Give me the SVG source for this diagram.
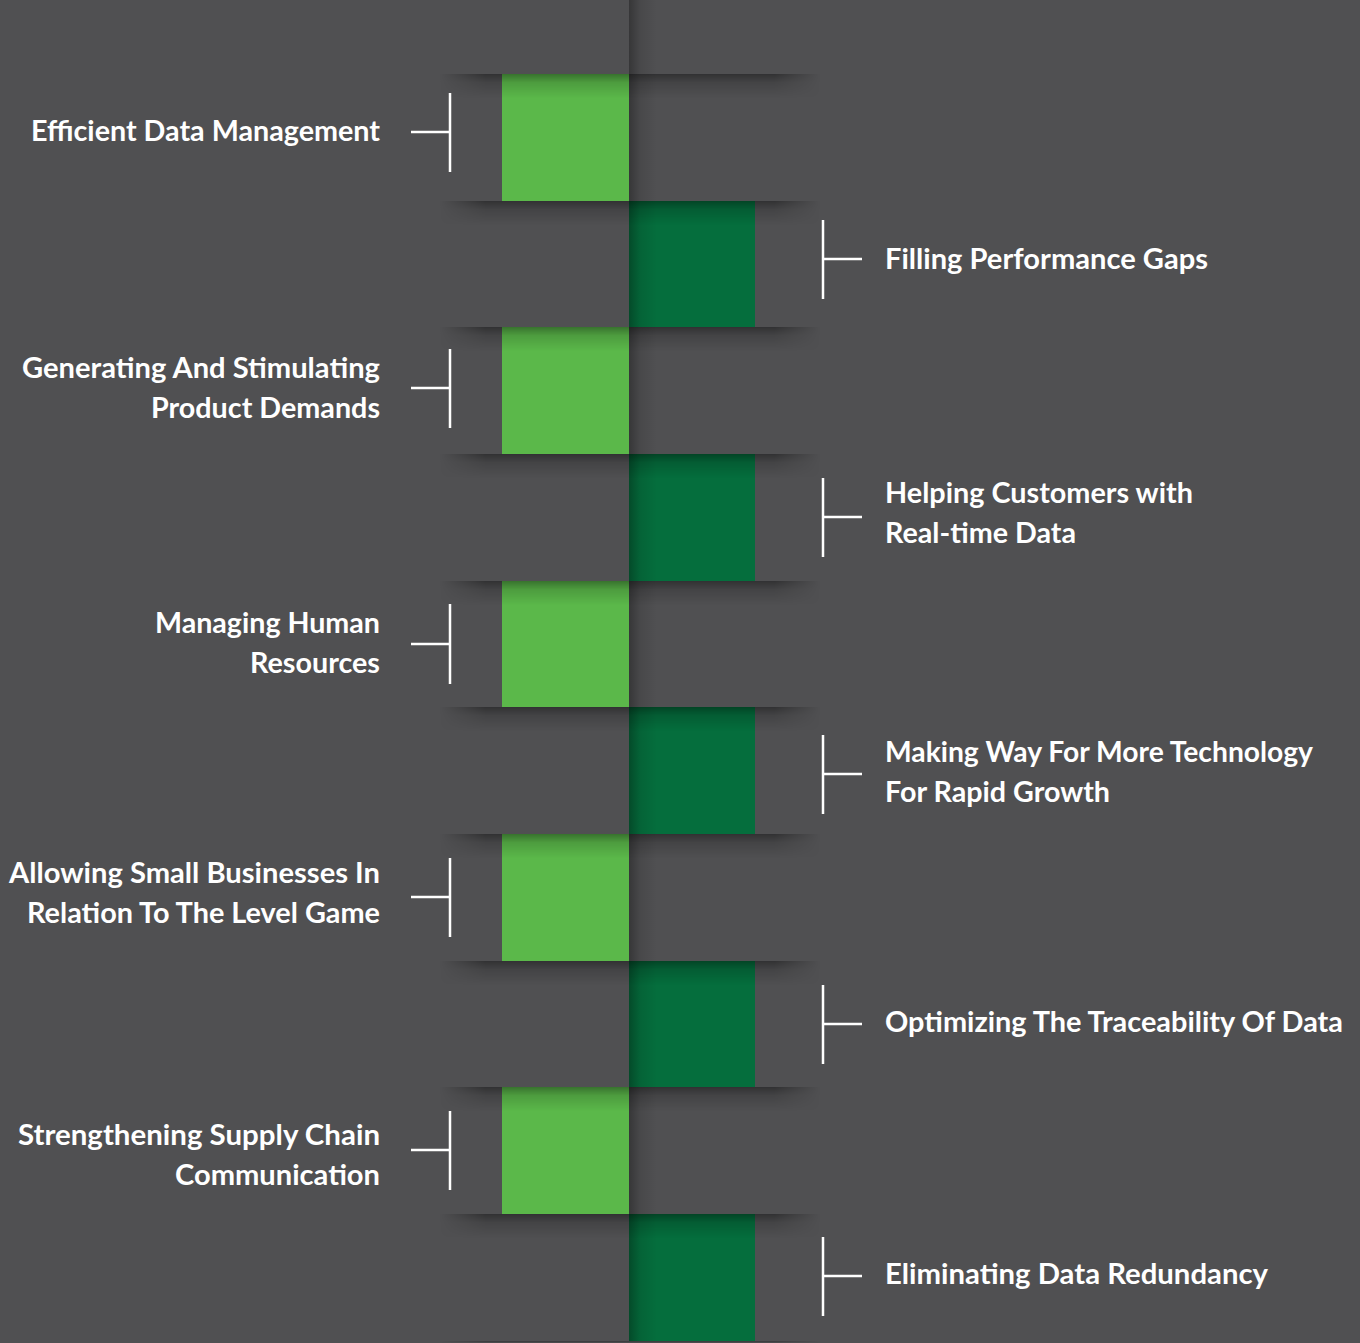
<svg xmlns="http://www.w3.org/2000/svg" width="1360" height="1343" viewBox="0 0 1360 1343">
  <style>
    .lt { fill: #5bb84a; }
    .dk { fill: #056e3d; }
    .lbl { font-family: Lato, "Open Sans", "Liberation Sans", sans-serif; font-weight: 700; font-size: 28px; fill: #ffffff; }
    .l { text-anchor: end; }
    .br { stroke: #ffffff; stroke-width: 2.5; fill: none; }
    .sh { fill: url(#gv); }
  </style>
  <defs>
    <linearGradient id="gv" x1="0" y1="0" x2="0" y2="1">
      <stop offset="0" stop-color="#000" stop-opacity="0.38"/>
      <stop offset="0.35" stop-color="#000" stop-opacity="0.15"/>
      <stop offset="1" stop-color="#000" stop-opacity="0"/>
    </linearGradient>
    <linearGradient id="gh" x1="0" y1="0" x2="1" y2="0">
      <stop offset="0" stop-color="#000" stop-opacity="0.32"/>
      <stop offset="0.4" stop-color="#000" stop-opacity="0.1"/>
      <stop offset="1" stop-color="#000" stop-opacity="0"/>
    </linearGradient>
    <linearGradient id="gfade" x1="0" y1="0" x2="1" y2="0">
      <stop offset="0" stop-color="#fff" stop-opacity="0"/>
      <stop offset="0.12" stop-color="#fff" stop-opacity="1"/>
      <stop offset="0.88" stop-color="#fff" stop-opacity="1"/>
      <stop offset="1" stop-color="#fff" stop-opacity="0"/>
    </linearGradient>
    <mask id="fade" maskUnits="userSpaceOnUse" x="0" y="0" width="1360" height="1343">
      <rect x="440" y="0" width="380" height="1343" fill="url(#gfade)"/>
    </mask>
  </defs>
  <rect width="1360" height="1343" fill="#505052"/>

  <g id="blocks">
    <rect class="lt" x="502" y="74" width="127" height="127"/>
    <rect class="dk" x="629" y="201" width="126" height="126"/>
    <rect class="lt" x="502" y="327" width="127" height="127"/>
    <rect class="dk" x="629" y="454" width="126" height="127"/>
    <rect class="lt" x="502" y="581" width="127" height="126"/>
    <rect class="dk" x="629" y="707" width="126" height="127"/>
    <rect class="lt" x="502" y="834" width="127" height="127"/>
    <rect class="dk" x="629" y="961" width="126" height="126"/>
    <rect class="lt" x="502" y="1087" width="127" height="127"/>
    <rect class="dk" x="629" y="1214" width="126" height="127"/>
  </g>

  <g id="shadows">
    <g mask="url(#fade)">
      <rect class="sh" x="440" y="74" width="380" height="24"/>
      <rect class="sh" x="440" y="201" width="380" height="24"/>
      <rect class="sh" x="440" y="327" width="380" height="24"/>
      <rect class="sh" x="440" y="454" width="380" height="24"/>
      <rect class="sh" x="440" y="581" width="380" height="24"/>
      <rect class="sh" x="440" y="707" width="380" height="24"/>
      <rect class="sh" x="440" y="834" width="380" height="24"/>
      <rect class="sh" x="440" y="961" width="380" height="24"/>
      <rect class="sh" x="440" y="1087" width="380" height="24"/>
      <rect class="sh" x="440" y="1214" width="380" height="24"/>
      <rect class="sh" x="440" y="1341" width="380" height="2"/>
    </g>
    <rect x="629" y="0" width="28" height="1341" fill="url(#gh)"/>
  </g>

  <g id="connectors">
    <path class="br" d="M450 93V172M411 132H450"/>
    <path class="br" d="M823 220V299M823 259H862"/>
    <path class="br" d="M450 349V428M411 388H450"/>
    <path class="br" d="M823 478V557M823 517H862"/>
    <path class="br" d="M450 604V684M411 644H450"/>
    <path class="br" d="M823 735V814M823 774H862"/>
    <path class="br" d="M450 858V937M411 897H450"/>
    <path class="br" d="M823 985V1064M823 1024H862"/>
    <path class="br" d="M450 1111V1190M411 1150H450"/>
    <path class="br" d="M823 1237V1316M823 1276H862"/>
  </g>

  <g id="node1"><text class="lbl l" x="380" y="141" textLength="349" lengthAdjust="spacingAndGlyphs">Efficient Data Management</text></g>
  <g id="node2"><text class="lbl" x="885" y="269" textLength="323" lengthAdjust="spacingAndGlyphs">Filling Performance Gaps</text></g>
  <g id="node3">
    <text class="lbl l" x="380" y="378" textLength="358" lengthAdjust="spacingAndGlyphs">Generating And Stimulating</text>
    <text class="lbl l" x="380" y="418" textLength="229" lengthAdjust="spacingAndGlyphs">Product Demands</text>
  </g>
  <g id="node4">
    <text class="lbl" x="885" y="503" textLength="308" lengthAdjust="spacingAndGlyphs">Helping Customers with</text>
    <text class="lbl" x="885" y="543" textLength="191" lengthAdjust="spacingAndGlyphs">Real-time Data</text>
  </g>
  <g id="node5">
    <text class="lbl l" x="380" y="633" textLength="225" lengthAdjust="spacingAndGlyphs">Managing Human</text>
    <text class="lbl l" x="380" y="673" textLength="130" lengthAdjust="spacingAndGlyphs">Resources</text>
  </g>
  <g id="node6">
    <text class="lbl" x="885" y="762" textLength="428" lengthAdjust="spacingAndGlyphs">Making Way For More Technology</text>
    <text class="lbl" x="885" y="802" textLength="225" lengthAdjust="spacingAndGlyphs">For Rapid Growth</text>
  </g>
  <g id="node7">
    <text class="lbl l" x="380" y="883" textLength="371" lengthAdjust="spacingAndGlyphs">Allowing Small Businesses In</text>
    <text class="lbl l" x="380" y="923" textLength="353" lengthAdjust="spacingAndGlyphs">Relation To The Level Game</text>
  </g>
  <g id="node8"><text class="lbl" x="885" y="1032" textLength="458" lengthAdjust="spacingAndGlyphs">Optimizing The Traceability Of Data</text></g>
  <g id="node9">
    <text class="lbl l" x="380" y="1145" textLength="362" lengthAdjust="spacingAndGlyphs">Strengthening Supply Chain</text>
    <text class="lbl l" x="380" y="1185" textLength="205" lengthAdjust="spacingAndGlyphs">Communication</text>
  </g>
  <g id="node10"><text class="lbl" x="885" y="1284" textLength="383" lengthAdjust="spacingAndGlyphs">Eliminating Data Redundancy</text></g>
</svg>
